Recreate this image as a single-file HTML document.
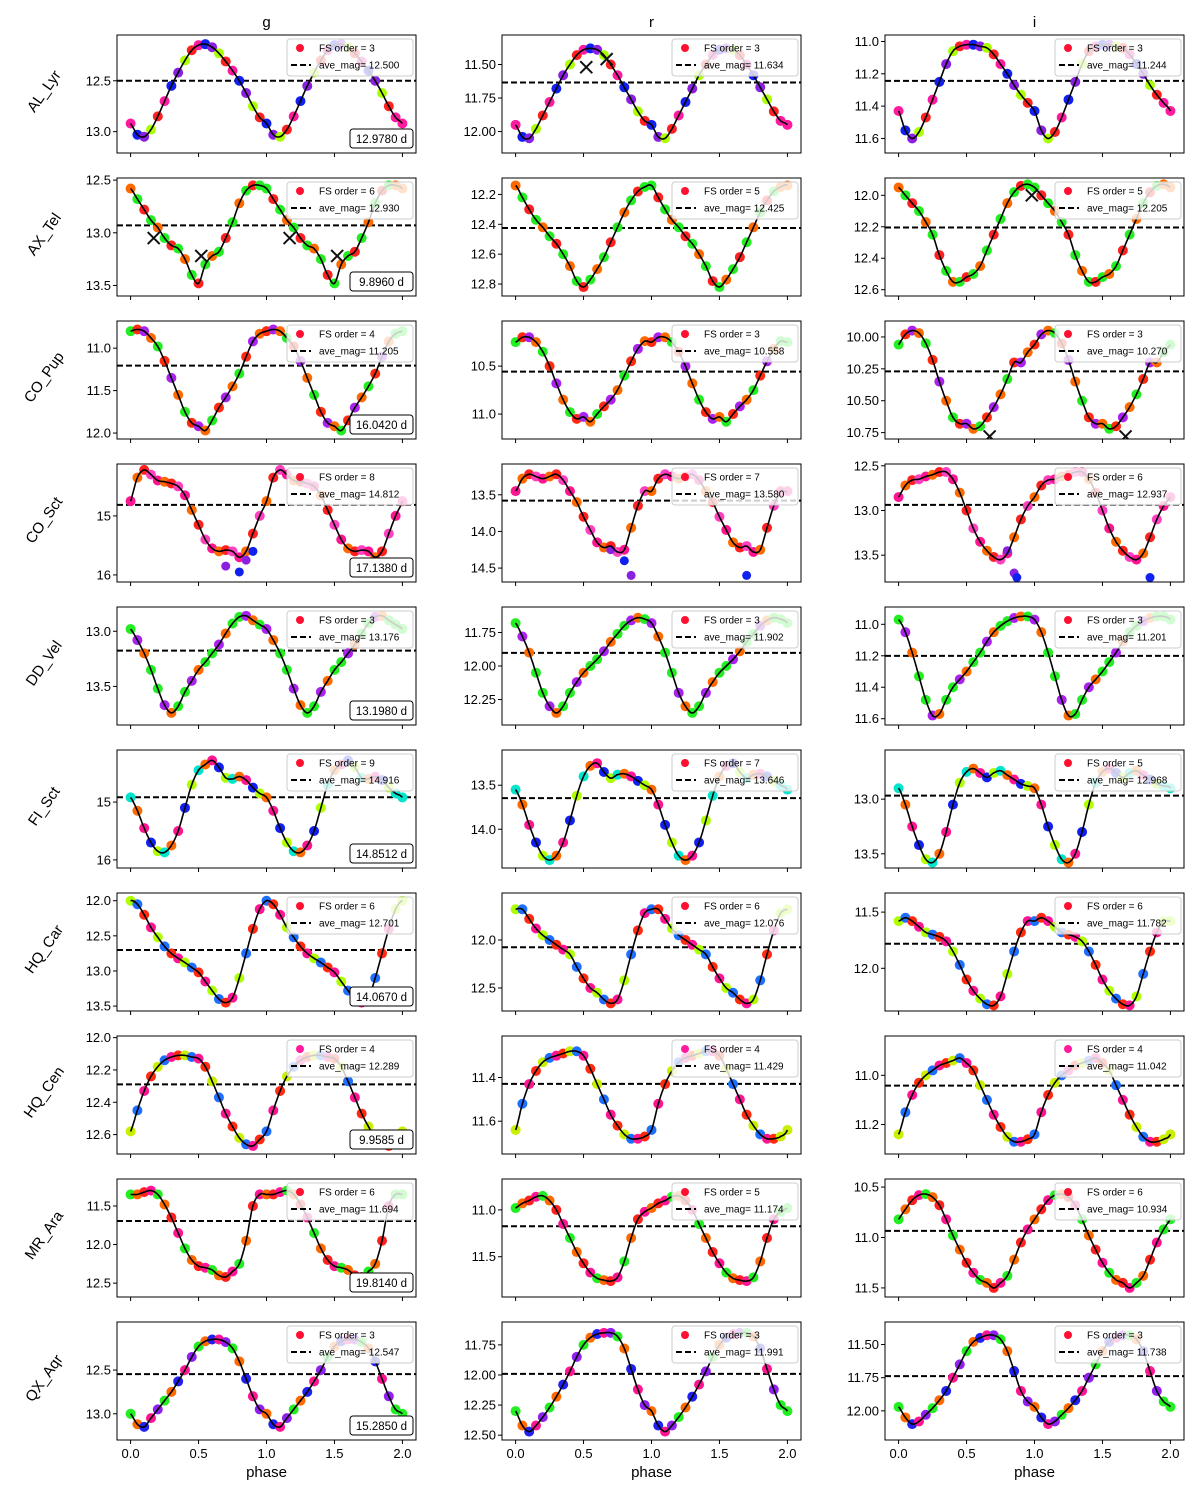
<!DOCTYPE html>
<html><head><meta charset="utf-8"><title>Light curves</title>
<style>
html,body{margin:0;padding:0;background:#fff;}
svg{display:block;font-family:"Liberation Sans","DejaVu Sans",sans-serif;}
</style></head>
<body>
<svg id="chart" width="1200" height="1500" viewBox="0 0 1200 1500" xmlns="http://www.w3.org/2000/svg"></svg>
<script>
const stars = ["AL_Lyr","AX_Tel","CO_Pup","CO_Sct","DD_Vel","FI_Sct","HQ_Car","HQ_Cen","MR_Ara","QX_Aqr"];
const bands = ["g","r","i"];
const phaseTicks = [0.0,0.5,1.0,1.5,2.0];
const phaseTickLabels = ["0.0","0.5","1.0","1.5","2.0"];
const periods = ["12.9780 d","9.8960 d","16.0420 d","17.1380 d","13.1980 d","14.8512 d","14.0670 d","9.9585 d","19.8140 d","15.2850 d"];
const fsOrders = [[3,3,3],[6,5,5],[4,3,3],[8,7,6],[3,3,3],[9,7,5],[6,6,6],[4,4,4],[6,5,6],[3,3,3]];
const aveMags = [["12.500","11.634","11.244"],["12.930","12.425","12.205"],["11.205","10.558","10.270"],["14.812","13.580","12.937"],["13.176","11.902","11.201"],["14.916","13.646","12.968"],["12.701","12.076","11.782"],["12.289","11.429","11.042"],["11.694","11.174","10.934"],["12.547","11.991","11.738"]];
const yLimits = [
 [[12.05,13.21],[11.28,12.16],[10.96,11.69]],
 [[12.48,13.60],[12.09,12.88],[11.89,12.64]],
 [[10.68,12.07],[10.03,11.26],[9.875,10.80]],
 [[14.12,16.12],[13.08,14.69],[12.48,13.80]],
 [[12.78,13.85],[11.56,12.44],[10.89,11.64]],
 [[14.10,16.14],[13.10,14.44],[12.55,13.63]],
 [[11.89,13.57],[11.51,12.74],[11.33,12.38]],
 [[11.99,12.72],[11.21,11.75],[10.84,11.32]],
 [[11.15,12.68],[10.67,11.93],[10.42,11.59]],
 [[11.95,13.30],[11.56,12.54],[11.33,12.22]]];
const yTickLabels = [
 [["12.5","13.0"],["11.50","11.75","12.00"],["11.0","11.2","11.4","11.6"]],
 [["12.5","13.0","13.5"],["12.2","12.4","12.6","12.8"],["12.0","12.2","12.4","12.6"]],
 [["11.0","11.5","12.0"],["10.5","11.0"],["10.00","10.25","10.50","10.75"]],
 [["15","16"],["13.5","14.0","14.5"],["12.5","13.0","13.5"]],
 [["13.0","13.5"],["11.75","12.00","12.25"],["11.0","11.2","11.4","11.6"]],
 [["15","16"],["13.5","14.0"],["13.0","13.5"]],
 [["12.0","12.5","13.0","13.5"],["12.0","12.5"],["11.5","12.0"]],
 [["12.0","12.2","12.4","12.6"],["11.4","11.6"],["11.0","11.2"]],
 [["11.5","12.0","12.5"],["11.0","11.5"],["10.5","11.0","11.5"]],
 [["12.5","13.0"],["11.75","12.00","12.25","12.50"],["11.50","11.75","12.00"]]];
// magnitudes at phase 0.00, 0.05, ... 0.95 for g, r, i
const curveAL_Lyr = [
 [12.92,13.03,13.05,12.98,12.85,12.70,12.55,12.42,12.30,12.20,12.15,12.14,12.17,12.23,12.31,12.40,12.50,12.62,12.75,12.86],
 [11.95,12.04,12.05,11.98,11.88,11.78,11.68,11.58,11.50,11.43,11.39,11.38,11.39,11.43,11.50,11.58,11.67,11.76,11.85,11.92],
 [11.43,11.55,11.60,11.56,11.47,11.36,11.25,11.14,11.06,11.03,11.02,11.02,11.03,11.04,11.08,11.14,11.20,11.27,11.33,11.38]];
const curveAX_Tel = [
 [12.58,12.68,12.78,12.88,12.95,13.05,13.12,13.15,13.25,13.40,13.48,13.30,13.22,13.18,13.05,12.90,12.72,12.60,12.55,12.55],
 [12.14,12.22,12.30,12.37,12.42,12.48,12.53,12.60,12.68,12.78,12.82,12.77,12.70,12.62,12.52,12.42,12.32,12.24,12.18,12.15],
 [11.95,12.00,12.05,12.10,12.17,12.25,12.38,12.48,12.55,12.55,12.52,12.50,12.45,12.35,12.25,12.15,12.05,11.98,11.94,11.93]];
const curveCO_Pup = [
 [10.80,10.78,10.80,10.88,10.98,11.15,11.35,11.55,11.75,11.88,11.92,11.97,11.85,11.70,11.58,11.45,11.30,11.10,10.92,10.83],
 [10.25,10.20,10.20,10.25,10.35,10.50,10.68,10.85,10.98,11.05,11.03,11.08,11.00,10.92,10.85,10.75,10.60,10.45,10.32,10.24],
 [10.06,9.98,9.95,9.97,10.05,10.18,10.35,10.50,10.63,10.68,10.68,10.72,10.70,10.63,10.55,10.45,10.33,10.20,10.20,10.12]];
const curveCO_Sct = [
 [14.75,14.35,14.22,14.30,14.40,14.42,14.45,14.50,14.65,14.90,15.15,15.40,15.55,15.60,15.58,15.60,15.70,15.60,15.30,15.00],
 [13.45,13.28,13.22,13.25,13.28,13.25,13.22,13.30,13.45,13.60,13.80,13.98,14.15,14.22,14.20,14.28,14.25,13.95,13.65,13.45],
 [12.85,12.72,12.66,12.65,12.62,12.60,12.57,12.57,12.65,12.80,13.00,13.20,13.35,13.45,13.52,13.55,13.48,13.30,13.10,12.95]];
const curveDD_Vel = [
 [12.98,13.08,13.20,13.35,13.52,13.67,13.74,13.68,13.55,13.45,13.35,13.28,13.20,13.12,13.02,12.93,12.87,12.86,12.90,12.94],
 [11.68,11.78,11.90,12.05,12.20,12.30,12.35,12.30,12.20,12.12,12.05,12.00,11.95,11.89,11.82,11.76,11.70,11.66,11.64,11.65],
 [10.97,11.05,11.18,11.33,11.48,11.58,11.57,11.48,11.40,11.35,11.30,11.24,11.18,11.11,11.05,11.01,10.98,10.96,10.95,10.95]];
const curveFI_Sct = [
 [14.92,15.15,15.45,15.70,15.85,15.87,15.75,15.50,15.10,14.70,14.45,14.35,14.28,14.40,14.58,14.60,14.56,14.62,14.75,14.85],
 [13.55,13.72,13.95,14.15,14.30,14.35,14.30,14.15,13.90,13.62,13.40,13.28,13.25,13.35,13.42,13.38,13.37,13.40,13.45,13.50],
 [12.90,13.05,13.25,13.42,13.55,13.58,13.50,13.30,13.05,12.85,12.75,12.72,12.76,12.80,12.76,12.74,12.78,12.82,12.86,12.88]];
const curveHQ_Car = [
 [12.00,12.05,12.20,12.38,12.52,12.65,12.75,12.82,12.88,12.95,13.02,13.15,13.28,13.40,13.45,13.38,13.10,12.75,12.40,12.12],
 [11.68,11.68,11.78,11.88,11.95,12.00,12.05,12.10,12.15,12.28,12.40,12.50,12.55,12.62,12.66,12.62,12.42,12.15,11.90,11.72],
 [11.58,11.55,11.58,11.63,11.68,11.70,11.72,11.76,11.85,11.97,12.10,12.20,12.27,12.32,12.33,12.25,12.05,11.85,11.68,11.58]];
const curveHQ_Cen = [
 [12.58,12.45,12.33,12.24,12.18,12.14,12.12,12.11,12.11,12.12,12.13,12.18,12.27,12.37,12.47,12.55,12.62,12.66,12.67,12.63],
 [11.64,11.52,11.43,11.37,11.33,11.31,11.30,11.29,11.28,11.28,11.30,11.36,11.43,11.50,11.57,11.62,11.66,11.68,11.68,11.67],
 [11.24,11.15,11.08,11.03,11.00,10.98,10.96,10.95,10.94,10.93,10.95,10.98,11.04,11.10,11.16,11.21,11.25,11.27,11.27,11.26]];
const curveMR_Ara = [
 [11.35,11.35,11.32,11.30,11.35,11.48,11.65,11.85,12.05,12.20,12.28,12.30,12.33,12.40,12.42,12.35,12.25,11.95,11.50,11.35],
 [10.98,10.93,10.90,10.86,10.85,10.90,11.00,11.15,11.30,11.45,11.57,11.67,11.73,11.75,11.76,11.72,11.55,11.30,11.10,11.02],
 [10.82,10.72,10.63,10.58,10.57,10.60,10.68,10.82,10.98,11.12,11.25,11.35,11.42,11.45,11.50,11.45,11.38,11.22,11.05,10.92]];
const curveQX_Aqr = [
 [13.00,13.12,13.15,13.05,12.95,12.85,12.75,12.63,12.50,12.35,12.23,12.17,12.15,12.15,12.18,12.25,12.40,12.60,12.80,12.95],
 [12.30,12.42,12.47,12.42,12.35,12.27,12.18,12.08,11.97,11.85,11.75,11.69,11.66,11.65,11.65,11.68,11.78,11.95,12.12,12.25],
 [11.97,12.05,12.10,12.08,12.03,11.98,11.92,11.85,11.75,11.65,11.55,11.48,11.45,11.43,11.43,11.46,11.55,11.70,11.85,11.93]];
const curves = [curveAL_Lyr,curveAX_Tel,curveCO_Pup,curveCO_Sct,curveDD_Vel,curveFI_Sct,curveHQ_Car,curveHQ_Cen,curveMR_Ara,curveQX_Aqr];
// rejected points (x markers)
const crossRows = [0,0,1,1,1,1,1,2,2];
const crossBands = [1,1,0,0,0,0,2,2,2];
const crossPhases = [0.52,0.67,0.17,0.52,1.17,1.52,0.98,0.67,1.67];
const crossMags = [11.52,11.46,13.05,13.22,13.05,13.22,12.0,10.78,10.78];
// outlier points of CO_Sct
const outRows = [3,3,3,3,3,3,3,3,3,3,3,3];
const outBands = [0,0,0,0,1,1,1,1,2,2,2,2];
const outPhases = [0.7,0.8,0.85,0.9,0.7,0.8,0.85,1.7,0.85,0.87,0.8,1.85];
const outMags = [15.85,15.95,15.75,15.6,14.25,14.4,14.6,14.6,13.7,13.75,13.45,13.75];
const rowColors = [
 ["#ff1aa0","#1020f0","#8a20e0","#aaff00","#ff2020"],
 ["#ff6a00","#22ee22","#ff2020","#22ee22"],
 ["#22ee22","#ff2a10","#aa22ee","#ff6a00"],
 ["#ff1493","#ff6a00","#ff2020","#ff40c0"],
 ["#22ee22","#aa22ee","#ff6a00","#22ee22"],
 ["#00e5cc","#ff6a00","#ff1493","#1020f0","#b0ff00"],
 ["#b0ff00","#1e6fff","#ff2a10","#ff1493"],
 ["#c8f000","#1e6fff","#ff1493","#ff2a10"],
 ["#22ee22","#ff6a00","#ff2020","#ff1493"],
 ["#22ee22","#ff6a00","#2020f0","#ff1493","#9020f0"]];

const NS = "http://www.w3.org/2000/svg";
const svg = document.getElementById("chart");
const colLeft = [117, 502, 885], panelW = 299, panelH = 118, rowTop0 = 35, rowStep = 143;
function mk(tag, attrs, parent) {
  const e = document.createElementNS(NS, tag);
  for (const k in attrs) e.setAttribute(k, attrs[k]);
  (parent || svg).appendChild(e);
  return e;
}
function xScale(c, p) { return colLeft[c] + (p + 0.1) / 2.2 * panelW; }
function yScale(r, c, m) { const [a, b] = yLimits[r][c]; return rowTop0 + r * rowStep + (m - a) / (b - a) * panelH; }
function curveAt(vals, p) {
  const n = vals.length; const t = ((p % 1) + 1) % 1 * n;
  const i = Math.floor(t), f = t - i;
  const p0 = vals[(i - 1 + n) % n], p1 = vals[i % n], p2 = vals[(i + 1) % n], p3 = vals[(i + 2) % n];
  return 0.5 * ((2 * p1) + (-p0 + p2) * f + (2 * p0 - 5 * p1 + 4 * p2 - p3) * f * f + (-p0 + 3 * p1 - 3 * p2 + p3) * f * f * f);
}

bands.forEach((b, c) => {
  const t = mk("text", {x: colLeft[c] + panelW / 2, y: 27, "font-size": 15, "text-anchor": "middle"});
  t.textContent = b;
  
  
});

stars.forEach((star, r) => {
  const top = rowTop0 + r * rowStep;
  const lab = mk("text", {x: 0, y: 0, "font-size": 15, "text-anchor": "middle", transform: `translate(48,${top + panelH / 2}) rotate(-55)`});
  lab.textContent = star;
  
  
  bands.forEach((band, c) => {
    const L = colLeft[c];
    const g = mk("g", {});
    
    
    const clipId = `clip${r}_${c}`;
    const cp = mk("clipPath", {id: clipId}, g);
    mk("rect", {x: L, y: top, width: panelW, height: panelH}, cp);
    const ay = yScale(r, c, parseFloat(aveMags[r][c]));
    const al = mk("line", {x1: L, x2: L + panelW, y1: ay, y2: ay, stroke: "#000", "stroke-width": 2, "stroke-dasharray": "6,3"}, g);
    
    
    const inner = mk("g", {"clip-path": `url(#${clipId})`}, g);
    const vals = curves[r][c]; const cols = rowColors[r];
    for (let cyc = 0; cyc < 2; cyc++) {
      vals.forEach((m, k) => {
        const p = cyc + k / vals.length;
        const dot = mk("circle", {cx: xScale(c, p), cy: yScale(r, c, m), r: 5, fill: cols[(k + cyc) % cols.length]}, inner);
        
        
      });
    }
    mk("circle", {cx: xScale(c, 2.0), cy: yScale(r, c, vals[0]), r: 5, fill: cols[0]}, inner);
    outRows.forEach((rr, k) => {
      if (rr !== r || outBands[k] !== c) return;
      const od = mk("circle", {cx: xScale(c, outPhases[k]), cy: yScale(r, c, outMags[k]), r: 4.5, fill: k % 2 ? "#1020f0" : "#8a20e0"}, inner);
      
      
    });
    let d = "";
    for (let s = 0; s <= 400; s++) {
      const p = 2 * s / 400;
      d += (s ? "L" : "M") + xScale(c, p).toFixed(1) + "," + yScale(r, c, curveAt(vals, p)).toFixed(1);
    }
    const fit = mk("path", {d: d, fill: "none", stroke: "#000", "stroke-width": 1.6}, inner);
    
    
    crossRows.forEach((rr, k) => {
      if (rr !== r || crossBands[k] !== c) return;
      const cx = xScale(c, crossPhases[k]), cy = yScale(r, c, crossMags[k]);
      const x = mk("path", {d: `M${cx-6},${cy-6}L${cx+6},${cy+6}M${cx-6},${cy+6}L${cx+6},${cy-6}`, stroke: "#111", "stroke-width": 2}, inner);
      
      
    });
    const fr = mk("rect", {x: L, y: top, width: panelW, height: panelH, fill: "none", stroke: "#000", "stroke-width": 1}, g);
    
    
    yTickLabels[r][c].forEach(lbl => {
      const y = yScale(r, c, parseFloat(lbl));
      mk("line", {x1: L - 4, x2: L, y1: y, y2: y, stroke: "#000"}, g);
      const t = mk("text", {x: L - 6, y: y + 4.5, "font-size": 13, "text-anchor": "end"}, g);
      t.textContent = lbl;
      
      
    });
    phaseTicks.forEach((p, k) => {
      const x = xScale(c, p);
      mk("line", {x1: x, x2: x, y1: top + panelH, y2: top + panelH + 4, stroke: "#000"}, g);
      if (r === stars.length - 1) {
        const t = mk("text", {x: x, y: top + panelH + 18, "font-size": 13, "text-anchor": "middle"}, g);
        t.textContent = phaseTickLabels[k];
        
        
      }
    });
    if (r === stars.length - 1) {
      const t = mk("text", {x: L + panelW / 2, y: top + panelH + 37, "font-size": 15, "text-anchor": "middle"}, g);
      t.textContent = "phase";
      
      
    }
    const lg = mk("g", {}, g);
    
    
    mk("rect", {x: L + 170, y: top + 4, width: 126, height: 37, rx: 3, fill: "#fff", "fill-opacity": 0.8, stroke: "#ccc"}, lg);
    mk("circle", {cx: L + 183, cy: top + 13, r: 4, fill: r === 7 ? "#ff1aa0" : "#ff1030"}, lg);
    const t1 = mk("text", {x: L + 202, y: top + 16.5, "font-size": 10}, lg);
    t1.textContent = "FS order = " + fsOrders[r][c];
    
    
    mk("line", {x1: L + 174, x2: L + 194, y1: top + 30, y2: top + 30, stroke: "#000", "stroke-width": 2, "stroke-dasharray": "6,3"}, lg);
    const t2 = mk("text", {x: L + 202, y: top + 33.5, "font-size": 10}, lg);
    t2.textContent = "ave_mag= " + aveMags[r][c];
    
    
    if (c === 0) {
      const pb = mk("g", {}, g);
      
      
      mk("rect", {x: L + 233, y: top + panelH - 24, width: 63, height: 19, rx: 3, fill: "#fff", stroke: "#000"}, pb);
      const pt = mk("text", {x: L + 264.5, y: top + panelH - 10, "font-size": 11.5, "text-anchor": "middle"}, pb);
      pt.textContent = periods[r];
    }
  });
});
</script>
</body></html>
